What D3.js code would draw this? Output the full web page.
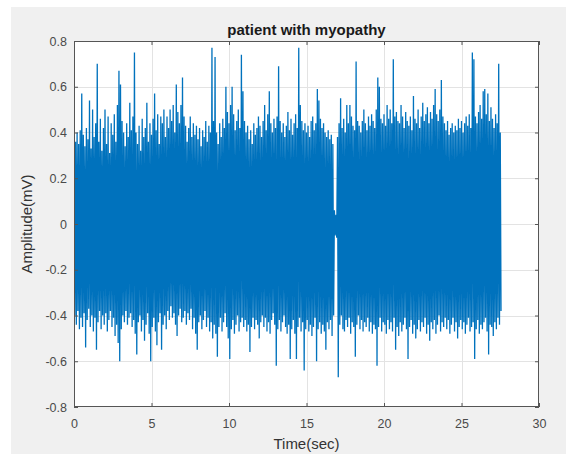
<!DOCTYPE html>
<html>
<head>
<meta charset="utf-8">
<script src="https://cdn.jsdelivr.net/npm/d3@7/dist/d3.min.js"></script>
<style>
  html, body { margin: 0; padding: 0; background: #ffffff; }
  svg { display: block; font-family: "Liberation Sans", Arial, Helvetica, sans-serif; }
</style>
</head>
<body>
<svg id="chart" width="566" height="455"></svg>
<script>
// EMG recording: per 0.1 s bin, the highest and lowest amplitude (mV)
const binWidth = 0.1;
const upperPeaks = [
  0.38, 0.36, 0.40, 0.35, 0.41, 0.57, 0.39, 0.34, 0.42, 0.37,
  0.54, 0.33, 0.50, 0.38, 0.44, 0.70, 0.36, 0.46, 0.32, 0.42,
  0.50, 0.35, 0.47, 0.31, 0.44, 0.39, 0.48, 0.36, 0.52, 0.67,
  0.61, 0.45, 0.40, 0.34, 0.44, 0.38, 0.53, 0.41, 0.47, 0.75,
  0.40, 0.35, 0.43, 0.32, 0.46, 0.38, 0.42, 0.53, 0.36, 0.44,
  0.39, 0.46, 0.57, 0.41, 0.48, 0.35, 0.47, 0.44, 0.50, 0.38,
  0.47, 0.42, 0.50, 0.45, 0.52, 0.40, 0.61, 0.49, 0.44, 0.52,
  0.64, 0.47, 0.43, 0.36, 0.42, 0.47, 0.38, 0.44, 0.39, 0.43,
  0.37, 0.42, 0.34, 0.41, 0.38, 0.45, 0.36, 0.43, 0.40, 0.77,
  0.45, 0.73, 0.40, 0.35, 0.44, 0.38, 0.46, 0.42, 0.60, 0.49,
  0.44, 0.52, 0.60, 0.48, 0.41, 0.45, 0.50, 0.42, 0.74, 0.58,
  0.45, 0.40, 0.43, 0.37, 0.41, 0.35, 0.44, 0.39, 0.42, 0.47,
  0.43, 0.38, 0.45, 0.52, 0.41, 0.48, 0.58, 0.44, 0.40, 0.46,
  0.42, 0.47, 0.69, 0.45, 0.40, 0.44, 0.38, 0.43, 0.49, 0.41,
  0.46, 0.39, 0.44, 0.48, 0.42, 0.77, 0.52, 0.45, 0.41, 0.44,
  0.40, 0.43, 0.38, 0.45, 0.47, 0.41, 0.44, 0.59, 0.54, 0.46,
  0.42, 0.44, 0.40, 0.38, 0.41, 0.37, 0.39, 0.35, 0.06, 0.04,
  0.38, 0.44, 0.55, 0.42, 0.46, 0.40, 0.52, 0.44, 0.52, 0.47,
  0.43, 0.41, 0.71, 0.45, 0.43, 0.40, 0.45, 0.50, 0.44, 0.41,
  0.47, 0.43, 0.48, 0.45, 0.42, 0.50, 0.64, 0.60, 0.46, 0.44,
  0.48, 0.43, 0.52, 0.46, 0.50, 0.44, 0.72, 0.47, 0.49, 0.45,
  0.44, 0.52, 0.47, 0.42, 0.49, 0.45, 0.43, 0.47, 0.41, 0.56,
  0.46, 0.44, 0.50, 0.42, 0.47, 0.53, 0.45, 0.48, 0.51, 0.44,
  0.49, 0.46, 0.52, 0.59, 0.48, 0.45, 0.50, 0.63, 0.47, 0.44,
  0.41, 0.45, 0.39, 0.42, 0.44, 0.40, 0.43, 0.41, 0.46, 0.42,
  0.45, 0.40, 0.44, 0.47, 0.43, 0.48, 0.42, 0.75, 0.72, 0.47,
  0.44, 0.49, 0.52, 0.46, 0.58, 0.59, 0.48, 0.57, 0.45, 0.51,
  0.46, 0.42, 0.48, 0.44, 0.70, 0.40
];
const lowerPeaks = [
  -0.40, -0.44, -0.38, -0.46, -0.41, -0.45, -0.39, -0.54, -0.42, -0.37,
  -0.45, -0.40, -0.47, -0.41, -0.55, -0.43, -0.38, -0.46, -0.40, -0.44,
  -0.39, -0.47, -0.42, -0.38, -0.45, -0.41, -0.49, -0.44, -0.52, -0.60,
  -0.46, -0.40, -0.43, -0.38, -0.44, -0.41, -0.39, -0.45, -0.42, -0.48,
  -0.57, -0.43, -0.40, -0.47, -0.42, -0.51, -0.44, -0.39, -0.48, -0.60,
  -0.45, -0.41, -0.47, -0.53, -0.43, -0.39, -0.55, -0.44, -0.40, -0.46,
  -0.38, -0.42, -0.36, -0.41, -0.39, -0.44, -0.49, -0.40, -0.37, -0.43,
  -0.41, -0.38, -0.44, -0.39, -0.42, -0.37, -0.46, -0.41, -0.48, -0.55,
  -0.43, -0.40, -0.46, -0.42, -0.38, -0.45, -0.41, -0.47, -0.43, -0.50,
  -0.44, -0.48, -0.58, -0.45, -0.41, -0.47, -0.43, -0.39, -0.45, -0.50,
  -0.59, -0.46, -0.42, -0.48, -0.44, -0.40, -0.47, -0.43, -0.41, -0.45,
  -0.42, -0.47, -0.44, -0.56, -0.45, -0.41, -0.46, -0.42, -0.44, -0.50,
  -0.43, -0.40, -0.45, -0.41, -0.47, -0.43, -0.48, -0.42, -0.39, -0.44,
  -0.62, -0.46, -0.42, -0.47, -0.43, -0.40, -0.45, -0.48, -0.44, -0.59,
  -0.46, -0.42, -0.48, -0.59, -0.45, -0.41, -0.47, -0.43, -0.64, -0.46,
  -0.42, -0.47, -0.44, -0.49, -0.45, -0.41, -0.60, -0.46, -0.43, -0.48,
  -0.44, -0.47, -0.55, -0.43, -0.46, -0.42, -0.49, -0.40, -0.05, -0.06,
  -0.67, -0.44, -0.40, -0.46, -0.47, -0.42, -0.45, -0.41, -0.48, -0.43,
  -0.45, -0.58, -0.44, -0.40, -0.46, -0.42, -0.47, -0.43, -0.45, -0.41,
  -0.47, -0.43, -0.48, -0.44, -0.46, -0.62, -0.45, -0.41, -0.47, -0.43,
  -0.44, -0.48, -0.42, -0.46, -0.43, -0.47, -0.41, -0.55, -0.45, -0.49,
  -0.43, -0.47, -0.44, -0.41, -0.46, -0.59, -0.45, -0.42, -0.48, -0.44,
  -0.50, -0.46, -0.42, -0.47, -0.43, -0.45, -0.41, -0.48, -0.44, -0.51,
  -0.43, -0.46, -0.42, -0.48, -0.44, -0.40, -0.47, -0.43, -0.45, -0.41,
  -0.46, -0.42, -0.48, -0.44, -0.41, -0.47, -0.43, -0.50, -0.45, -0.42,
  -0.46, -0.43, -0.48, -0.44, -0.41, -0.47, -0.45, -0.43, -0.59, -0.46,
  -0.42, -0.48, -0.44, -0.46, -0.43, -0.41, -0.47, -0.57, -0.44, -0.45,
  -0.49, -0.43, -0.46, -0.41, -0.44, -0.38
];
const xTicks = [0, 5, 10, 15, 20, 25, 30];
const yTicks = [-0.8, -0.6, -0.4, -0.2, 0, 0.2, 0.4, 0.6, 0.8];
const titleText = "patient with myopathy";
const xLabelText = "Time(sec)";
const yLabelText = "Amplitude(mV)";

const svg = d3.select("#chart");
const W = 566, H = 455;
const plot = { left: 74, right: 539, top: 41, bottom: 407 };

// figure background
svg.append("rect").attr("x", 0).attr("y", 0).attr("width", W).attr("height", H).attr("fill", "#ffffff");
svg.append("rect").attr("x", 11).attr("y", 7).attr("width", W - 11).attr("height", 447).attr("fill", "#f0f0f0");

const x = d3.scaleLinear().domain([0, 30]).range([plot.left, plot.right]);
const y = d3.scaleLinear().domain([-0.8, 0.8]).range([plot.bottom, plot.top]);

// axes area
svg.append("rect")
  .attr("x", plot.left).attr("y", plot.top)
  .attr("width", plot.right - plot.left).attr("height", plot.bottom - plot.top)
  .attr("fill", "#ffffff");

// grid
const grid = svg.append("g").attr("stroke", "#e3e3e3").attr("stroke-width", 1);
xTicks.slice(1, -1).forEach(t => {
  grid.append("line").attr("x1", Math.round(x(t)) + 0.5).attr("x2", Math.round(x(t)) + 0.5)
    .attr("y1", plot.top).attr("y2", plot.bottom);
});
yTicks.slice(1, -1).forEach(t => {
  grid.append("line").attr("y1", Math.round(y(t)) + 0.5).attr("y2", Math.round(y(t)) + 0.5)
    .attr("x1", plot.left).attr("x2", plot.right);
});

// signal: alternate between each bin's high and low extremes
const samples = [];
upperPeaks.forEach((v, i) => {
  samples.push({ t: i * binWidth, v: v });
  samples.push({ t: i * binWidth + binWidth / 2, v: lowerPeaks[i] });
});

svg.append("clipPath").attr("id", "plotClip")
  .append("rect").attr("x", plot.left).attr("y", plot.top)
  .attr("width", plot.right - plot.left).attr("height", plot.bottom - plot.top);

svg.append("path")
  .datum(samples)
  .attr("clip-path", "url(#plotClip)")
  .attr("fill", "none")
  .attr("stroke", "#0072BD")
  .attr("stroke-width", 1.3)
  .attr("stroke-linejoin", "bevel")
  .attr("d", d3.line().x(d => x(d.t)).y(d => y(d.v)));

// axes with inward ticks
const fmt = d => (d === 0 ? "0" : String(+d.toFixed(1)));
const tickColor = "#555555";
const labelColor = "#4a4a4a";

function styleAxis(g) {
  g.select(".domain").remove();
  g.selectAll(".tick line").attr("stroke", tickColor);
  g.selectAll(".tick text").attr("fill", labelColor).attr("font-size", 12.5)
    .attr("font-family", "'Liberation Sans', Arial, sans-serif");
}

svg.append("g").attr("transform", `translate(0,${plot.bottom})`)
  .call(d3.axisBottom(x).tickValues(xTicks).tickFormat(fmt).tickSize(-4).tickPadding(12))
  .call(styleAxis);
svg.append("g").attr("transform", `translate(0,${plot.top})`)
  .call(d3.axisTop(x).tickValues(xTicks).tickFormat("").tickSize(-4))
  .call(styleAxis);
svg.append("g").attr("transform", `translate(${plot.left},0)`)
  .call(d3.axisLeft(y).tickValues(yTicks).tickFormat(fmt).tickSize(-4).tickPadding(7))
  .call(styleAxis);
svg.append("g").attr("transform", `translate(${plot.right},0)`)
  .call(d3.axisRight(y).tickValues(yTicks).tickFormat("").tickSize(-4))
  .call(styleAxis);

// box
svg.append("rect")
  .attr("x", plot.left + 0.5).attr("y", plot.top + 0.5)
  .attr("width", plot.right - plot.left - 1).attr("height", plot.bottom - plot.top - 1)
  .attr("fill", "none").attr("stroke", tickColor).attr("stroke-width", 1);

// title and axis labels
svg.append("text")
  .attr("x", (plot.left + plot.right) / 2).attr("y", 35)
  .attr("text-anchor", "middle").attr("font-weight", "bold").attr("font-size", 15)
  .attr("fill", "#1a1a1a").text(titleText);

svg.append("text")
  .attr("x", (plot.left + plot.right) / 2).attr("y", 449)
  .attr("text-anchor", "middle").attr("font-size", 15)
  .attr("fill", "#333333").text(xLabelText);

svg.append("text")
  .attr("transform", `translate(32,${(plot.top + plot.bottom) / 2}) rotate(-90)`)
  .attr("text-anchor", "middle").attr("font-size", 15)
  .attr("fill", "#333333").text(yLabelText);
</script>
</body>
</html>
